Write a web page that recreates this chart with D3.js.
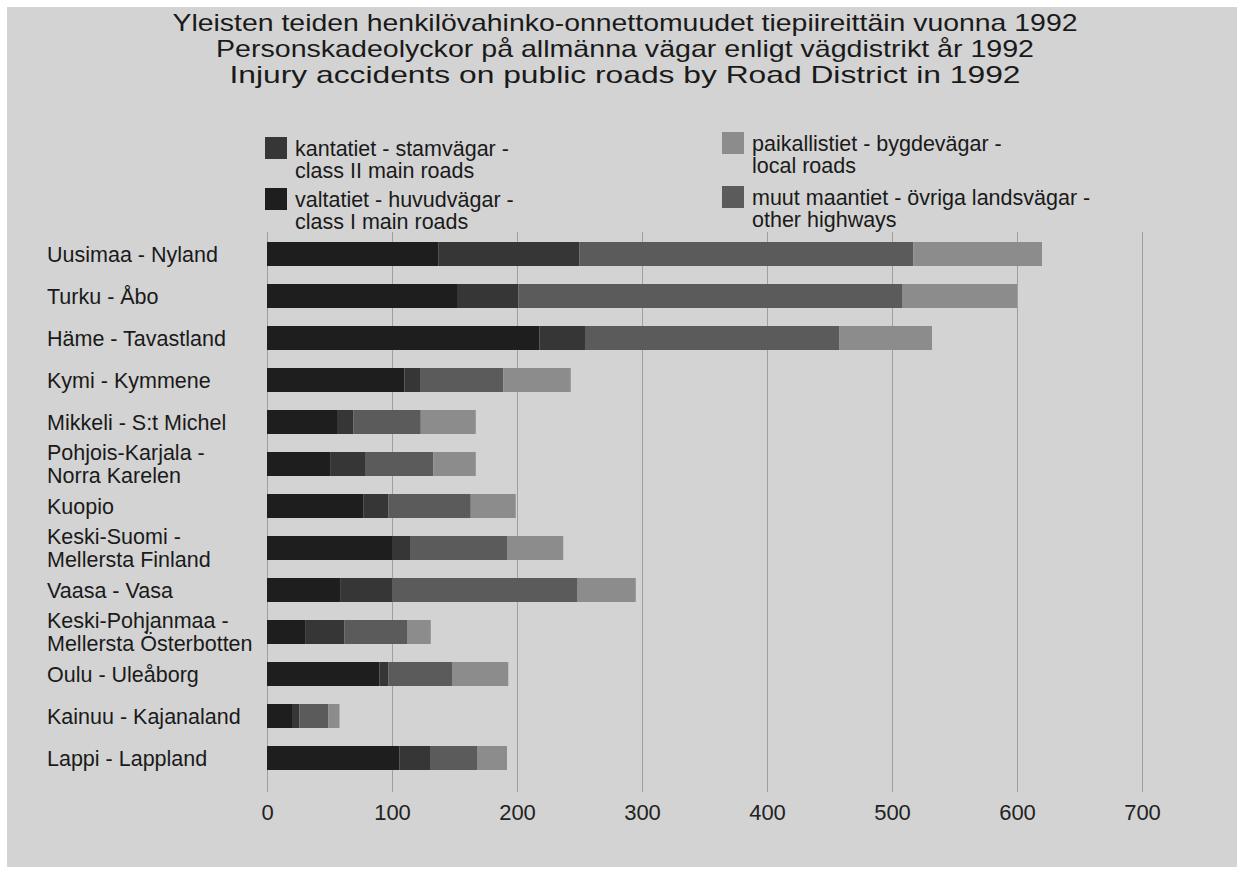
<!DOCTYPE html>
<html>
<head>
<meta charset="utf-8">
<script src="https://cdn.jsdelivr.net/npm/d3@7"></script>
<style>
  body { margin: 0; background: #fff; }
  svg { display: block; font-family: "Liberation Sans", Arial, Helvetica, sans-serif; }
</style>
</head>
<body>
<div id="chart"></div>
<script>
const titleLines = [
  "Yleisten teiden henkilövahinko-onnettomuudet tiepiireittäin vuonna 1992",
  "Personskadeolyckor på allmänna vägar enligt vägdistrikt år 1992",
  "Injury accidents on public roads by Road District in 1992"
];

const districts = [
  ["Uusimaa - Nyland"],
  ["Turku - Åbo"],
  ["Häme - Tavastland"],
  ["Kymi - Kymmene"],
  ["Mikkeli - S:t Michel"],
  ["Pohjois-Karjala -", "Norra Karelen"],
  ["Kuopio"],
  ["Keski-Suomi -", "Mellersta Finland"],
  ["Vaasa - Vasa"],
  ["Keski-Pohjanmaa -", "Mellersta Österbotten"],
  ["Oulu - Uleåborg"],
  ["Kainuu - Kajanaland"],
  ["Lappi - Lappland"]
];

// stacked left to right in this order
const seriesKeys = ["valtatiet", "kantatiet", "muut", "paikallistiet"];
const valtatiet     = [137, 152, 218, 110, 56, 51, 77, 100, 59, 31, 90, 20, 106];
const kantatiet     = [113, 49, 37, 13, 13, 28, 20, 15, 41, 31, 7, 6, 25];
const muut          = [267, 307, 203, 66, 54, 54, 66, 77, 148, 50, 51, 23, 37];
const paikallistiet = [103, 92, 74, 54, 44, 34, 36, 45, 47, 19, 45, 9, 24];

const legendLabels = {
  kantatiet: ["kantatiet - stamvägar -", "class II main roads"],
  valtatiet: ["valtatiet - huvudvägar -", "class I main roads"],
  paikallistiet: ["paikallistiet - bygdevägar -", "local roads"],
  muut: ["muut maantiet - övriga landsvägar -", "other highways"]
};

const xTicks = [0, 100, 200, 300, 400, 500, 600, 700];

const colors = {
  valtatiet: "#1e1e1e",
  kantatiet: "#363636",
  muut: "#5b5b5b",
  paikallistiet: "#8c8c8c"
};

const W = 1244, H = 873;

const rows = districts.map((d, i) => ({
  name: d.join(" "),
  lines: d,
  valtatiet: valtatiet[i],
  kantatiet: kantatiet[i],
  muut: muut[i],
  paikallistiet: paikallistiet[i]
}));

const svg = d3.select("#chart")
  .append("svg")
  .attr("width", W)
  .attr("height", H);

svg.append("rect")
  .attr("x", 7).attr("y", 7)
  .attr("width", 1230).attr("height", 860)
  .attr("fill", "#d3d3d3");

const x = d3.scaleLinear().domain([0, 700]).range([267, 1142]);
const y = d3.scaleBand()
  .domain(rows.map(d => d.name))
  .range([233, 779])
  .paddingInner(18 / 42)
  .paddingOuter(9 / 42);

// gridlines + tick labels
const axis = d3.axisBottom(x)
  .tickValues(xTicks)
  .tickSize(-560)
  .tickPadding(12);

const axisG = svg.append("g")
  .attr("transform", "translate(0,792)")
  .call(axis);
axisG.select(".domain").remove();
axisG.selectAll(".tick line")
  .attr("stroke", "#9e9e9e")
  .attr("stroke-width", 1);
axisG.selectAll(".tick text")
  .attr("fill", "#222")
  .attr("font-size", 22)
  .attr("font-family", "\"Liberation Sans\", Arial, sans-serif");

// bars
const stacked = d3.stack().keys(seriesKeys)(rows);

svg.append("g")
  .selectAll("g")
  .data(stacked)
  .enter()
  .append("g")
  .attr("fill", d => colors[d.key])
  .selectAll("rect")
  .data(d => d)
  .enter()
  .append("rect")
  .attr("x", d => x(d[0]))
  .attr("y", d => y(d.data.name))
  .attr("width", d => x(d[1]) - x(d[0]))
  .attr("height", y.bandwidth());

// category labels
const labels = svg.append("g")
  .selectAll("text")
  .data(rows)
  .enter()
  .append("text")
  .attr("x", 47)
  .attr("font-size", 21.5)
  .attr("fill", "#1a1a1a")
  .attr("y", d => y(d.name) + y.bandwidth() / 2 - (d.lines.length - 1) * 11.5 + 7.5);

labels.selectAll("tspan")
  .data(d => d.lines)
  .enter()
  .append("tspan")
  .attr("x", 47)
  .attr("dy", (d, i) => i === 0 ? 0 : 23)
  .text(d => d);

// title
const titleWidths = [905, 818, 791];
svg.append("g")
  .selectAll("text")
  .data(titleLines)
  .enter()
  .append("text")
  .attr("x", 625)
  .attr("y", (d, i) => 31 + i * 26)
  .attr("text-anchor", "middle")
  .attr("font-size", 24)
  .attr("fill", "#1a1a1a")
  .attr("textLength", (d, i) => titleWidths[i])
  .attr("lengthAdjust", "spacingAndGlyphs")
  .text(d => d);

// legend
const legendItems = [
  { key: "kantatiet", x: 265, y: 137 },
  { key: "valtatiet", x: 265, y: 188 },
  { key: "paikallistiet", x: 722, y: 132 },
  { key: "muut", x: 722, y: 186 }
];

const legend = svg.append("g")
  .selectAll("g")
  .data(legendItems)
  .enter()
  .append("g")
  .attr("transform", d => "translate(" + [d.x, d.y] + ")");

legend.append("rect")
  .attr("width", 22)
  .attr("height", 22)
  .attr("fill", d => colors[d.key]);

legend.append("text")
  .attr("x", 30)
  .attr("y", 19)
  .attr("font-size", 21.5)
  .attr("fill", "#1a1a1a")
  .selectAll("tspan")
  .data(d => legendLabels[d.key])
  .enter()
  .append("tspan")
  .attr("x", 30)
  .attr("dy", (d, i) => i === 0 ? 0 : 22)
  .text(d => d);
</script>
</body>
</html>
